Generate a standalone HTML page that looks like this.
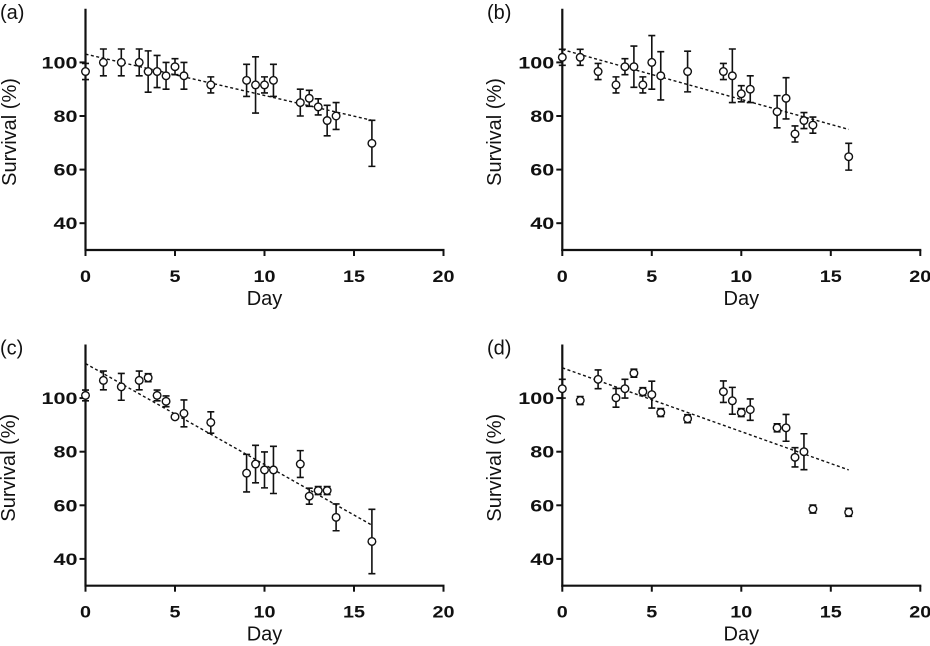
<!DOCTYPE html>
<html><head><meta charset="utf-8"><style>
html,body{margin:0;padding:0;background:#fff;}
svg{display:block;font-family:"Liberation Sans",Arial,sans-serif;}
.tk{font-weight:bold;font-size:17px;fill:#111;}
.ttl{font-size:20px;fill:#111;}
</style></head><body>
<svg id="chart" width="930" height="646" viewBox="0 0 930 646"></svg>
<script>
const days = [0,1,2,3,3.5,4,4.5,5,5.5,7,9,9.5,10,10.5,12,12.5,13,13.5,14,16];
const survA = [96.6,100,100,100,96.6,96.6,95,98.4,95,91.6,93.3,91.6,91.6,93.3,85,86.6,83.4,78.3,80,69.8];
const errA  = [3,5,5,5,7.7,6,5,3,5,3,6,10.5,3,6,5,3,3,5.7,5,8.6];
const trendA = [103.1,78.4];
const survB = [101.9,101.9,96.6,91.6,98.4,98.4,91.6,100,95,96.6,96.6,95,88.3,90,81.6,86.6,73.3,78.3,76.6,64.8];
const errB  = [3,3,3,3,3,7.7,3,10,9,7.6,3,10,3,5,6,7.7,3,3,3,5];
const trendB = [104.8,75];
const survC = [101,106.6,104.2,106.6,107.6,101,98.8,93,94.3,90.9,72,75.4,73.2,73.2,75.4,63.4,65.5,65.5,55.5,46.5];
const errC  = [2,3.5,5,3.5,1.5,2,2,0.5,5,4,7,7,6.7,8.8,5,3,1.5,1.5,5,12];
const trendC = [112.9,52.6];
const survD = [103.5,99.1,107,100.1,103.5,109.3,102.4,101.3,94.6,92.3,102.4,99,94.6,95.7,88.9,88.9,77.9,80,58.6,57.4];
const errD  = [3.5,1.5,3.5,3.5,3.5,1.5,1.5,5,1.5,1.5,4,5,1.5,4,1.5,5,3.6,6.7,1.5,1.5];
const trendD = [111.3,73.2];
const trendDays = [0,16];
const xTicks = [0,5,10,15,20];
const yTicks = [40,60,80,100];

const NS = "http://www.w3.org/2000/svg";
const svg = document.getElementById('chart');
function mk(tag, attrs, parent){
  const e = document.createElementNS(NS, tag);
  for (const k in attrs) e.setAttribute(k, attrs[k]);
  (parent||svg).appendChild(e);
  return e;
}
const panels = [
  {id:'a', ox:85.5, oy:250, s:survA, e:errA, t:trendA, lx:0, ylx:9},
  {id:'b', ox:562.3, oy:250, s:survB, e:errB, t:trendB, lx:470, ylx:494},
  {id:'c', ox:85.5, oy:585.7, s:survC, e:errC, t:trendC, lx:0, ylx:8},
  {id:'d', ox:562.3, oy:585.7, s:survD, e:errD, t:trendD, lx:470, ylx:494}
];
panels.forEach(p => {
  const g = mk('g', {});
  
  
  const X = d => p.ox + d * 17.9;
  const Y = v => p.oy - (v - 30) * 2.68;
  const lab = mk('text', {x:p.id==='a'||p.id==='c'?0:p.lx+17, y:(p.oy-250)+19, 'font-size':20, fill:'#111'}, g);
  lab.textContent = '(' + p.id + ')';
  
  
  const ya = mk('line', {x1:p.ox, y1:Y(120), x2:p.ox, y2:p.oy+1, stroke:'#111', 'stroke-width':2.2}, g);
  
  
  const xa = mk('line', {x1:p.ox-1, y1:p.oy, x2:X(20)+1, y2:p.oy, stroke:'#111', 'stroke-width':2.2}, g);
  
  
  yTicks.forEach(v => {
    mk('line', {x1:p.ox-6, y1:Y(v), x2:p.ox, y2:Y(v), stroke:'#111', 'stroke-width':2}, g);
    const s = String(v);
    const t = mk('text', {x:p.ox-8, y:Y(v)+6, 'text-anchor':'end', class:'tk', textLength:s.length*12, lengthAdjust:'spacingAndGlyphs'}, g);
    t.textContent = s;
    
    
  });
  xTicks.forEach(v => {
    mk('line', {x1:X(v), y1:p.oy, x2:X(v), y2:p.oy+6, stroke:'#111', 'stroke-width':2}, g);
    const s = String(v);
    const t = mk('text', {x:X(v), y:p.oy+32, 'text-anchor':'middle', class:'tk', textLength:s.length*11, lengthAdjust:'spacingAndGlyphs'}, g);
    t.textContent = s;
    
    
  });
  const yt = mk('text', {x:0, y:0, 'text-anchor':'middle', class:'ttl', transform:'translate(' + (p.ylx+7) + ',' + (p.oy-118) + ') rotate(-90)'}, g);
  yt.textContent = 'Survival (%)';
  
  
  const xt = mk('text', {x:X(10), y:p.oy+55, 'text-anchor':'middle', class:'ttl'}, g);
  xt.textContent = 'Day';
  
  
  const tl = mk('line', {x1:X(trendDays[0]), y1:Y(p.t[0]), x2:X(trendDays[1]), y2:Y(p.t[1]), stroke:'#111', 'stroke-width':1.4, 'stroke-dasharray':'3,2.5'}, g);
  
  
  days.forEach((d, i) => {
    const cx = X(d), v = p.s[i], er = p.e[i];
    const eb = mk('path', {d:'M'+cx+','+Y(v+er)+'V'+Y(v-er)+'M'+(cx-3.5)+','+Y(v+er)+'h7M'+(cx-3.5)+','+Y(v-er)+'h7', stroke:'#111', 'stroke-width':1.6, fill:'none'}, g);
    
    
    const c = mk('circle', {cx:cx, cy:Y(v), r:3.8, fill:'#fff', stroke:'#111', 'stroke-width':1.4}, g);
    
    
  });
});
</script>
</body></html>
